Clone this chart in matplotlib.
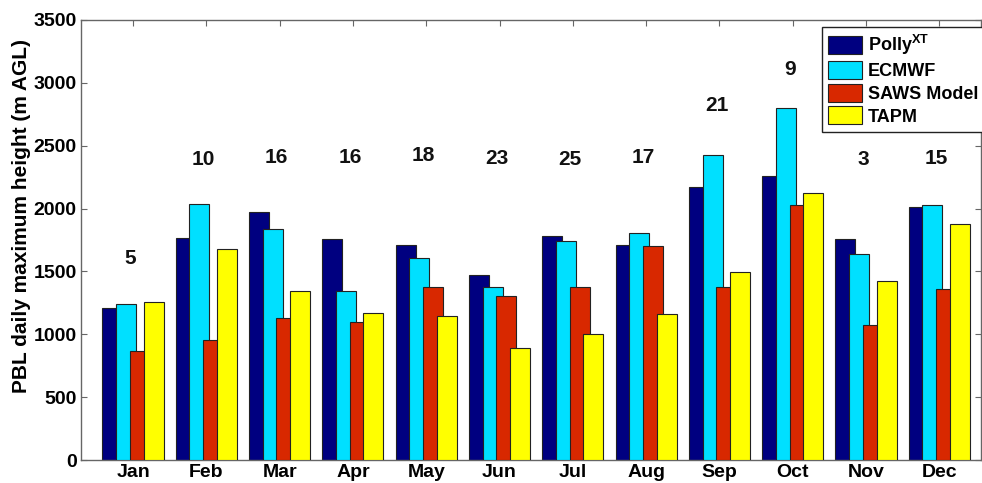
import numpy as np
import matplotlib
matplotlib.use("Agg")
import matplotlib.pyplot as plt

plt.rcParams["font.family"] = ["Liberation Sans", "DejaVu Sans"]
plt.rcParams["font.weight"] = "bold"
plt.rcParams["mathtext.fontset"] = "custom"
plt.rcParams["mathtext.rm"] = "Liberation Sans"
plt.rcParams["mathtext.bf"] = "Liberation Sans:bold"

months = ["Jan", "Feb", "Mar", "Apr", "May", "Jun", "Jul", "Aug", "Sep", "Oct", "Nov", "Dec"]
polly = [1207, 1766, 1973, 1756, 1713, 1472, 1784, 1713, 2169, 2259, 1761, 2013]
ecmwf = [1239, 2034, 1835, 1342, 1604, 1376, 1745, 1803, 2429, 2798, 1641, 2031]
saws = [867, 955, 1130, 1098, 1376, 1302, 1376, 1702, 1376, 2026, 1076, 1358]
tapm = [1254, 1678, 1342, 1167, 1143, 891, 1000, 1159, 1493, 2121, 1424, 1875]
counts = [5, 10, 16, 16, 18, 23, 25, 17, 21, 9, 3, 15]
count_heights = [1600, 2390, 2410, 2410, 2420, 2400, 2390, 2410, 2820, 3110, 2390, 2395]

series = [
    (r"Polly$^{\mathrm{XT}}$", polly, "#000080"),
    ("ECMWF", ecmwf, "#00E0FF"),
    ("SAWS Model", saws, "#D82800"),
    ("TAPM", tapm, "#FFFF00"),
]

fig = plt.figure(figsize=(9.82, 4.83), dpi=100)
ax = fig.add_axes([0.0825, 0.0476, 0.9165, 0.911])

x = np.arange(1, 13)
step = 0.187
width = 0.273
for i, (label, vals, color) in enumerate(series):
    ax.bar(x + (i - 1.5) * step, vals, width=width, color=color,
           edgecolor="#222222", linewidth=0.8, label=label, zorder=2 + i)

for xi, n, h in zip(x, counts, count_heights):
    ax.text(xi - 0.04, h, str(n), ha="center", va="center",
            fontsize=15, fontweight="bold", color="#111111")

ax.set_xlim(0.29, 12.57)
ax.set_ylim(0, 3500)
ax.set_xticks(x)
ax.set_xticklabels(months)
ax.set_yticks(np.arange(0, 3501, 500))
ax.tick_params(direction="in", top=True, right=True, length=4,
               labelsize=14, color="#666666")
ax.tick_params(axis="x", pad=3)
ax.tick_params(axis="y", pad=3)
for lab in ax.get_xticklabels() + ax.get_yticklabels():
    lab.set_fontweight("bold")
for sp in ax.spines.values():
    sp.set_color("#666666")
    sp.set_linewidth(1.0)
ax.set_ylabel("PBL daily maximum height (m AGL)", fontsize=15, fontweight="bold")
ax.yaxis.set_label_coords(-0.056, 0.555)

leg = ax.legend(loc="upper left", bbox_to_anchor=(0.823, 0.984),
                fontsize=13, fancybox=False, edgecolor="#222222",
                framealpha=1, handlelength=1.9, handleheight=1.15,
                labelspacing=0.2, handletextpad=0.3, borderpad=0.35,
                borderaxespad=0)
leg.get_frame().set_linewidth(1.0)
for t in leg.get_texts():
    t.set_fontweight("bold")

fig.savefig("out.png", dpi=100)
